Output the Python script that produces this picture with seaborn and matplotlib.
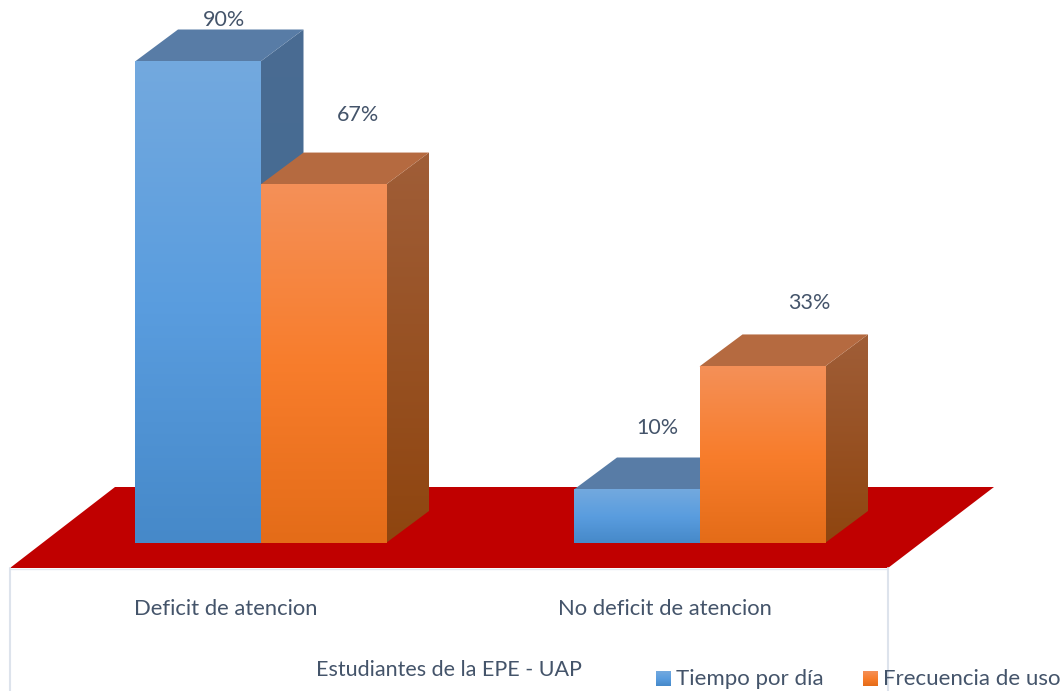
import numpy as np
import pandas as pd
import seaborn as sns
import matplotlib.pyplot as plt
from matplotlib.colors import LinearSegmentedColormap
from matplotlib.image import BboxImage
from matplotlib.legend_handler import HandlerBase
from matplotlib.patches import Polygon
from matplotlib.transforms import Affine2D, Bbox, TransformedBbox

# datos
categorias = ['Deficit de atencion', 'No deficit de atencion']
series = ['Tiempo por día', 'Frecuencia de uso']
tiempo_por_dia = [90, 10]
frecuencia_de_uso = [67, 33]
titulo_eje = 'Estudiantes de la EPE - UAP'

# escala en pixeles de la imagen original
ANCHO, ALTO = 1062, 691
BASE_Y = 543
PX_CATEGORIA = 439
PX_POR_PCT = 5.35
CAT0_X = 260.5
FONDO_X, FONDO_Y = 43, 32

TEXTO = '#44546A'
COLORES = {
    'Tiempo por día': {'frente': ['#73A9DE', '#5A9DDF', '#4689C9'], 'techo': '#587CA6',
                       'lado': ['#4A6C92', '#3F6A94']},
    'Frecuencia de uso': {'frente': ['#F49058', '#F87D2C', '#E46C18'], 'techo': '#B56A40',
                          'lado': ['#A05E38', '#8F450F']},
}
# desplazamiento de las etiquetas de valor respecto al centro y techo de cada barra
OFFSETS = {
    'Tiempo por día': [(26, 41), (21, 61)],
    'Frecuencia de uso': [(35, 70), (47, 63)],
}

sns.set_theme(style='white')
plt.rcParams['font.family'] = ['Lato', 'DejaVu Sans']

df = pd.DataFrame({
    'categoria': categorias * 2,
    'serie': [series[0]] * 2 + [series[1]] * 2,
    'valor': tiempo_por_dia + frecuencia_de_uso,
})

fig = plt.figure(figsize=(ANCHO / 100, ALTO / 100), dpi=100)
ax = fig.add_axes([0, (ALTO - BASE_Y) / ALTO, 1, BASE_Y / ALTO])
ax.patch.set_visible(False)
pix = Affine2D().scale(1, -1).translate(0, ALTO)

sns.barplot(data=df, x='categoria', y='valor', hue='serie', order=categorias, hue_order=series,
            palette={s: COLORES[s]['frente'][1] for s in series}, width=251 / PX_CATEGORIA,
            gap=0, errorbar=None, ax=ax, legend=False)


def degradado(colores):
    return LinearSegmentedColormap.from_list('g', colores)


def relleno(ax, x0, x1, y0, y1, colores, z, clip=None):
    im = ax.imshow(np.linspace(0, 1, 256)[:, None], cmap=degradado(colores), aspect='auto',
                   extent=(x0, x1, y0, y1), origin='upper', zorder=z)
    if clip is not None:
        im.set_clip_path(clip)
    return im


dx = FONDO_X / PX_CATEGORIA
dy = FONDO_Y / PX_POR_PCT

for n, (serie, cont) in enumerate(zip(series, ax.containers)):
    z = 2 + n
    col = COLORES[serie]
    for k, bar in enumerate(cont.patches):
        x0, x1 = bar.get_x(), bar.get_x() + bar.get_width()
        h = bar.get_height()
        bar.set_visible(False)
        relleno(ax, x0, x1, 0, h, col['frente'], z + 0.3)
        techo = Polygon([(x0, h), (x1, h), (x1 + dx, h + dy), (x0 + dx, h + dy)],
                        facecolor=col['techo'], edgecolor='none', zorder=z + 0.2)
        ax.add_patch(techo)
        lado = Polygon([(x1, 0), (x1 + dx, dy), (x1 + dx, h + dy), (x1, h)],
                       facecolor='none', edgecolor='none', zorder=z + 0.1)
        ax.add_patch(lado)
        relleno(ax, x1, x1 + dx, 0, h + dy, col['lado'], z + 0.1, clip=lado)
        off = OFFSETS[serie][k]
        ax.annotate(f'{h:.0f}%', xy=((x0 + x1) / 2, h), xytext=off, textcoords='offset pixels',
                    ha='center', va='center', fontsize=15.5, color=TEXTO, annotation_clip=False,
                    zorder=10)

# piso rojo y paredes
piso = Polygon([(10, 568), (888, 568), (994, 487), (115, 487)], closed=True, transform=pix,
               facecolor='#C00000', edgecolor='none', clip_on=False, zorder=1)
ax.add_patch(piso)
for xp in [10, 888]:
    ax.plot([xp, xp], [568, ALTO], transform=pix, color='#DDE3EC', lw=1.5, clip_on=False, zorder=1)
ax.plot([10, 888], [569, 569], transform=pix, color='#E4E8F0', lw=1, clip_on=False, zorder=0.9)

ax.set_xlim(-CAT0_X / PX_CATEGORIA, (ANCHO - CAT0_X) / PX_CATEGORIA)
ax.set_ylim(0, BASE_Y / PX_POR_PCT)
sns.despine(ax=ax, left=True, bottom=True)
ax.set_yticks([])
ax.set_ylabel('')
ax.tick_params(axis='x', length=0, pad=40, labelsize=15.8, labelcolor=TEXTO)
corre = Affine2D().translate(-34.5, 0)
for lab in ax.get_xticklabels():
    lab.set_transform(lab.get_transform() + corre)

ax.set_xlabel(titulo_eje, fontsize=15.5, color=TEXTO, va='center')
ax.xaxis.set_label_coords(449 / ANCHO, -(670 - BASE_Y) / BASE_Y)


class CuadroDegradado(HandlerBase):
    def create_artists(self, legend, orig_handle, xdescent, ydescent, width, height, fontsize, trans):
        caja = TransformedBbox(Bbox([[0, -1], [width, width - 1]]), trans)
        im = BboxImage(caja, cmap=degradado(orig_handle.colores), origin='upper')
        im.set_data(np.linspace(0, 1, 64)[:, None])
        return [im]


class Muestra:
    def __init__(self, colores):
        self.colores = colores


handles = [Muestra(COLORES[s]['frente']) for s in series]
ax.legend(handles, series, handler_map={Muestra: CuadroDegradado()}, ncol=2, frameon=False,
          loc='lower left', bbox_to_anchor=(656, 689), bbox_transform=pix, borderaxespad=0,
          borderpad=0, fontsize=16, labelcolor=TEXTO, handlelength=0.66, handletextpad=0.25,
          columnspacing=1.75)

fig.savefig('out.png', dpi=100)
